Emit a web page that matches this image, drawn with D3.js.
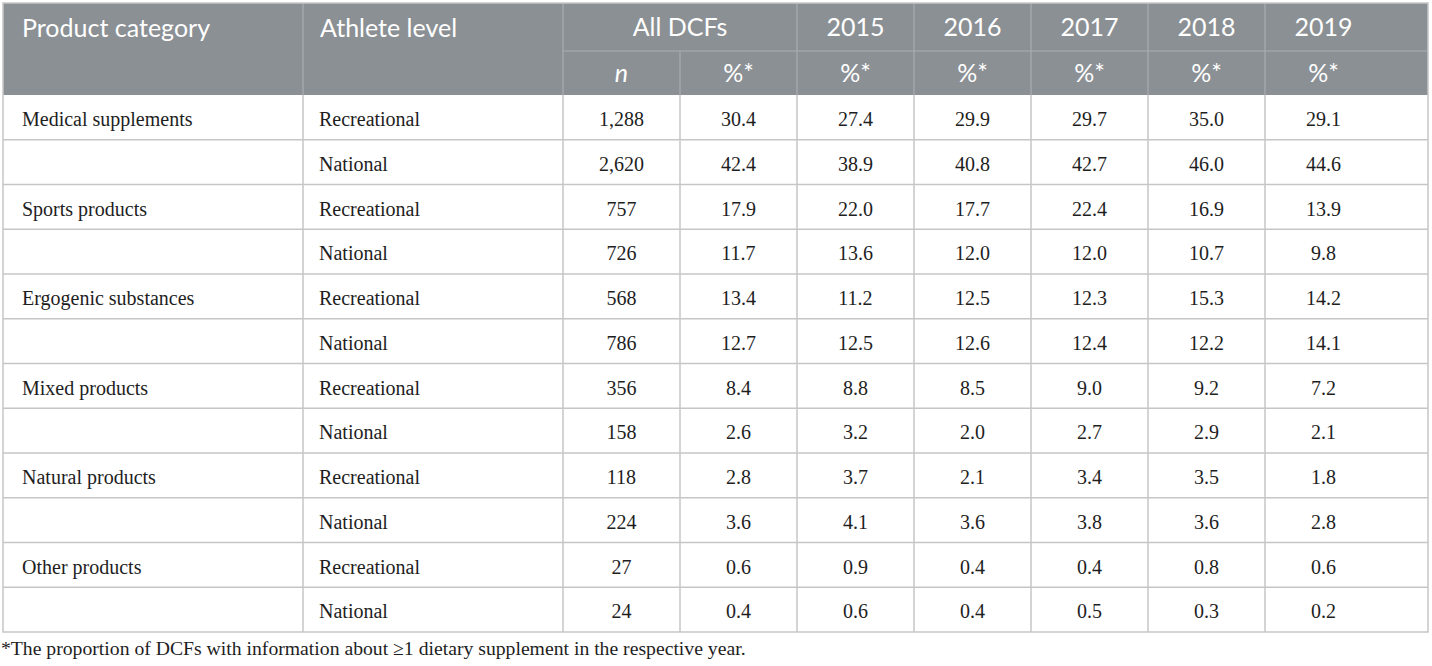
<!DOCTYPE html>
<html>
<head>
<meta charset="utf-8">
<script src="https://cdn.jsdelivr.net/npm/d3@7"></script>
<style>
    body { margin: 0; background: #fff; }
</style>
</head>
<body>
<svg id="chart"></svg>
<script>
// table values, read row by row (Recreational, National per category)
const categories = ["Medical supplements", "Sports products", "Ergogenic substances",
    "Mixed products", "Natural products", "Other products"];
const athleteLevels = ["Recreational", "National"];
const countAll = [1288, 2620, 757, 726, 568, 786, 356, 158, 118, 224, 27, 24];
const pctAll = [30.4, 42.4, 17.9, 11.7, 13.4, 12.7, 8.4, 2.6, 2.8, 3.6, 0.6, 0.4];
const pct2015 = [27.4, 38.9, 22.0, 13.6, 11.2, 12.5, 8.8, 3.2, 3.7, 4.1, 0.9, 0.6];
const pct2016 = [29.9, 40.8, 17.7, 12.0, 12.5, 12.6, 8.5, 2.0, 2.1, 3.6, 0.4, 0.4];
const pct2017 = [29.7, 42.7, 22.4, 12.0, 12.3, 12.4, 9.0, 2.7, 3.4, 3.8, 0.4, 0.5];
const pct2018 = [35.0, 46.0, 16.9, 10.7, 15.3, 12.2, 9.2, 2.9, 3.5, 3.6, 0.8, 0.3];
const pct2019 = [29.1, 44.6, 13.9, 9.8, 14.2, 14.1, 7.2, 2.1, 1.8, 2.8, 0.6, 0.2];
const yearLabels = ["2015", "2016", "2017", "2018", "2019"];
const footnote = "*The proportion of DCFs with information about \u22651 dietary supplement in the respective year.";

const tableChart = (function () {
    "use strict";

    const width = 1432,
          height = 666,
          left = 3,
          right = 1428,
          top = 3,
          headTop = 51,
          bodyTop = 95,
          bodyBottom = 632,
          levelX = 303,
          dataX = 563;

    const headFill = "#8b9094",
          headLine = "#aaaeb1",
          gridLine = "#c6c6c6",
          textColor = "#1e1e1e";

    const sans = "Lato, 'Open Sans', sans-serif",
          serif = "'Liberation Serif', 'Times New Roman', serif";

    const colKeys = ["n", "all"].concat(yearLabels.map((y) => "y" + y));
    const seriesByKey = {
        n: countAll, all: pctAll,
        y2015: pct2015, y2016: pct2016, y2017: pct2017, y2018: pct2018, y2019: pct2019
    };
    const fmtCount = d3.format(","),
          fmtPct = d3.format(".1f");

    /**
     * Build the body rows from the top level arrays.
     */
    function buildRows() {
        return countAll.map((_, i) => ({
            index: i,
            category: i % 2 === 0 ? categories[i / 2] : "",
            level: athleteLevels[i % 2],
            cells: colKeys.map((k) => ({
                key: k,
                text: k === "n" ? fmtCount(seriesByKey[k][i]) : fmtPct(seriesByKey[k][i])
            }))
        }));
    }

    function draw() {
        const rows = buildRows();

        const svg = d3.select("#chart")
            .attr("width", width)
            .attr("height", height);

        const x = d3.scaleBand()
            .domain(colKeys)
            .range([dataX, dataX + colKeys.length * 117]);
        const y = d3.scaleBand()
            .domain(rows.map((d) => d.index))
            .range([bodyTop, bodyBottom]);
        const bw = x.bandwidth();

        // header block
        svg.append("rect")
            .attr("x", left).attr("y", top)
            .attr("width", right - left).attr("height", bodyTop - top)
            .attr("fill", headFill);

        const headLines = svg.append("g")
            .attr("stroke", headLine)
            .attr("stroke-width", 1.2);
        const fullSplits = [levelX, dataX].concat(colKeys.slice(2).map((k) => x(k)));
        headLines.selectAll("line.full")
            .data(fullSplits)
            .join("line")
            .attr("class", "full")
            .attr("x1", (d) => d).attr("x2", (d) => d)
            .attr("y1", top).attr("y2", bodyTop);
        headLines.append("line")
            .attr("x1", x("all")).attr("x2", x("all"))
            .attr("y1", headTop).attr("y2", bodyTop);
        headLines.append("line")
            .attr("x1", dataX).attr("x2", right)
            .attr("y1", headTop).attr("y2", headTop);

        const head = svg.append("g")
            .attr("font-family", sans)
            .attr("font-size", 25)
            .attr("fill", "#fff");
        head.append("text").attr("x", 22).attr("y", 37).text("Product category");
        head.append("text").attr("x", 320).attr("y", 37).text("Athlete level");
        head.append("text")
            .attr("x", x("n") + bw).attr("y", 36)
            .attr("text-anchor", "middle")
            .text("All DCFs");
        head.selectAll("text.year")
            .data(yearLabels)
            .join("text")
            .attr("class", "year")
            .attr("x", (d) => x("y" + d) + bw / 2).attr("y", 36)
            .attr("text-anchor", "middle")
            .text((d) => d);
        head.selectAll("text.sub")
            .data(colKeys)
            .join("text")
            .attr("class", "sub")
            .attr("x", (d) => x(d) + bw / 2).attr("y", 82)
            .attr("text-anchor", "middle")
            .attr("font-style", (d) => d === "n" ? "italic" : null)
            .text((d) => d === "n" ? "n" : "%*");

        // body grid
        const grid = svg.append("g")
            .attr("stroke", gridLine)
            .attr("stroke-width", 1.5)
            .attr("fill", "none");
        grid.selectAll("line.row")
            .data(rows.slice(1))
            .join("line")
            .attr("class", "row")
            .attr("x1", left).attr("x2", right)
            .attr("y1", (d) => y(d.index)).attr("y2", (d) => y(d.index));
        grid.selectAll("line.col")
            .data([levelX].concat(colKeys.map((k) => x(k))))
            .join("line")
            .attr("class", "col")
            .attr("x1", (d) => d).attr("x2", (d) => d)
            .attr("y1", bodyTop).attr("y2", bodyBottom);
        grid.append("rect")
            .attr("x", left).attr("y", top)
            .attr("width", right - left).attr("height", bodyBottom - top);

        // body text
        const body = svg.append("g")
            .attr("font-family", serif)
            .attr("font-size", 20)
            .attr("fill", textColor);
        const rowG = body.selectAll("g")
            .data(rows)
            .join("g")
            .attr("transform", (d) => `translate(0, ${y(d.index) + 31})`);
        rowG.append("text").attr("x", 22).text((d) => d.category);
        rowG.append("text").attr("x", 319).text((d) => d.level);
        rowG.selectAll("text.val")
            .data((d) => d.cells)
            .join("text")
            .attr("class", "val")
            .attr("x", (d) => x(d.key) + bw / 2)
            .attr("text-anchor", "middle")
            .text((d) => d.text);

        svg.append("text")
            .attr("x", 1).attr("y", 655)
            .attr("font-family", serif)
            .attr("font-size", 19.7)
            .attr("fill", textColor)
            .text(footnote);
    }

    return { draw: draw };
})();

tableChart.draw();
</script>
</body>
</html>
